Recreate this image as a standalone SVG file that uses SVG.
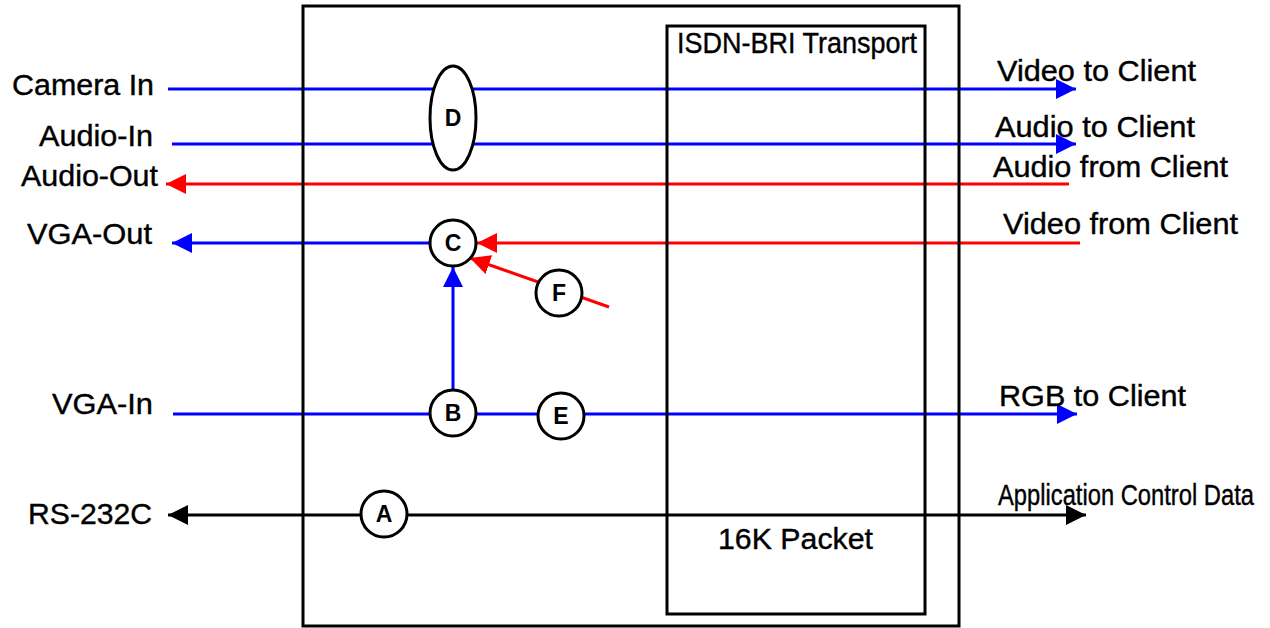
<svg xmlns="http://www.w3.org/2000/svg" width="1270" height="628" viewBox="0 0 1270 628">
  <style>
    .lbl { font-family: "Liberation Sans", Arial, sans-serif; font-size: 30px; fill: #000; stroke: #000; stroke-width: 0.4; }
    .tag { font-family: "Liberation Sans", Arial, sans-serif; font-size: 23px; font-weight: bold; fill: #000; text-anchor: middle; }
    .box { fill: none; stroke: #000; stroke-width: 3; }
    .node { fill: #fff; stroke: #000; stroke-width: 3; }
    .blue { stroke: #0000ff; stroke-width: 3; fill: none; }
    .red { stroke: #ff0000; stroke-width: 3; fill: none; }
    .blk { stroke: #000; stroke-width: 3; fill: none; }
  </style>
  <defs>
    <marker id="ahBlue" viewBox="0 0 20 20" refX="20" refY="10" markerWidth="20" markerHeight="20" markerUnits="userSpaceOnUse" orient="auto">
      <path d="M0,0 L20,10 L0,20 z" fill="#0000ff"/>
    </marker>
    <marker id="ahRed" viewBox="0 0 20 20" refX="20" refY="10" markerWidth="20" markerHeight="20" markerUnits="userSpaceOnUse" orient="auto">
      <path d="M0,0 L20,10 L0,20 z" fill="#ff0000"/>
    </marker>
    <marker id="ahBlack" viewBox="0 0 20 20" refX="20" refY="10" markerWidth="20" markerHeight="20" markerUnits="userSpaceOnUse" orient="auto-start-reverse">
      <path d="M0,0 L20,10 L0,20 z" fill="#000"/>
    </marker>
  </defs>

  <rect width="1270" height="628" fill="#fff"/>

  <!-- signal paths -->
  <g id="connectors">
    <line class="blue" x1="168" y1="89" x2="1076" y2="89" marker-end="url(#ahBlue)"/>
    <line class="blue" x1="172" y1="144" x2="1076" y2="144" marker-end="url(#ahBlue)"/>
    <line class="red" x1="1069" y1="184" x2="166" y2="184" marker-end="url(#ahRed)"/>
    <line class="blue" x1="440" y1="243" x2="172" y2="243" marker-end="url(#ahBlue)"/>
    <line class="red" x1="1080" y1="243" x2="477" y2="243" marker-end="url(#ahRed)"/>
    <line class="red" x1="609" y1="307" x2="470" y2="258" marker-end="url(#ahRed)"/>
    <line class="blue" x1="453" y1="400" x2="453" y2="267" marker-end="url(#ahBlue)"/>
    <line class="blue" x1="173" y1="414" x2="1077" y2="414" marker-end="url(#ahBlue)"/>
    <line class="blk" x1="168" y1="515" x2="1086" y2="515" marker-start="url(#ahBlack)" marker-end="url(#ahBlack)"/>
  </g>

  <!-- enclosures -->
  <g id="unit">
    <rect class="box" x="303" y="6" width="656" height="620"/>
  </g>
  <g id="transport">
    <rect class="box" x="667" y="26" width="258" height="588"/>
    <text class="lbl" x="677" y="53" font-size="28" textLength="240" lengthAdjust="spacingAndGlyphs">ISDN-BRI Transport</text>
    <text class="lbl" x="718" y="549" textLength="155" lengthAdjust="spacingAndGlyphs">16K Packet</text>
  </g>

  <!-- processing blocks -->
  <g id="node-d">
    <ellipse class="node" cx="453" cy="118" rx="23" ry="52"/>
    <text class="tag" x="453" y="126">D</text>
  </g>
  <g id="node-c">
    <circle class="node" cx="453" cy="243" r="23"/>
    <text class="tag" x="453" y="251">C</text>
  </g>
  <g id="node-f">
    <circle class="node" cx="559" cy="293" r="23"/>
    <text class="tag" x="559" y="301">F</text>
  </g>
  <g id="node-b">
    <circle class="node" cx="453" cy="413" r="23"/>
    <text class="tag" x="453" y="421">B</text>
  </g>
  <g id="node-e">
    <circle class="node" cx="561" cy="416" r="23"/>
    <text class="tag" x="561" y="424">E</text>
  </g>
  <g id="node-a">
    <circle class="node" cx="384" cy="514" r="23"/>
    <text class="tag" x="384" y="522">A</text>
  </g>

  <!-- local ports -->
  <g id="ports-local">
    <text class="lbl" x="12" y="95" textLength="142" lengthAdjust="spacingAndGlyphs">Camera In</text>
    <text class="lbl" x="39" y="146" textLength="114" lengthAdjust="spacingAndGlyphs">Audio-In</text>
    <text class="lbl" x="21" y="186" textLength="137" lengthAdjust="spacingAndGlyphs">Audio-Out</text>
    <text class="lbl" x="27" y="244" textLength="125" lengthAdjust="spacingAndGlyphs">VGA-Out</text>
    <text class="lbl" x="52" y="414" textLength="101" lengthAdjust="spacingAndGlyphs">VGA-In</text>
    <text class="lbl" x="28" y="524" textLength="124" lengthAdjust="spacingAndGlyphs">RS-232C</text>
  </g>

  <!-- remote side -->
  <g id="ports-remote">
    <text class="lbl" x="997" y="81" textLength="199" lengthAdjust="spacingAndGlyphs">Video to Client</text>
    <text class="lbl" x="995" y="137" textLength="200" lengthAdjust="spacingAndGlyphs">Audio to Client</text>
    <text class="lbl" x="993" y="177" textLength="235" lengthAdjust="spacingAndGlyphs">Audio from Client</text>
    <text class="lbl" x="1003" y="234" textLength="235" lengthAdjust="spacingAndGlyphs">Video from Client</text>
    <text class="lbl" x="999" y="406" textLength="187" lengthAdjust="spacingAndGlyphs">RGB to Client</text>
    <text class="lbl" x="998" y="505" font-size="23" textLength="256" lengthAdjust="spacingAndGlyphs">Application Control Data</text>
  </g>
</svg>
